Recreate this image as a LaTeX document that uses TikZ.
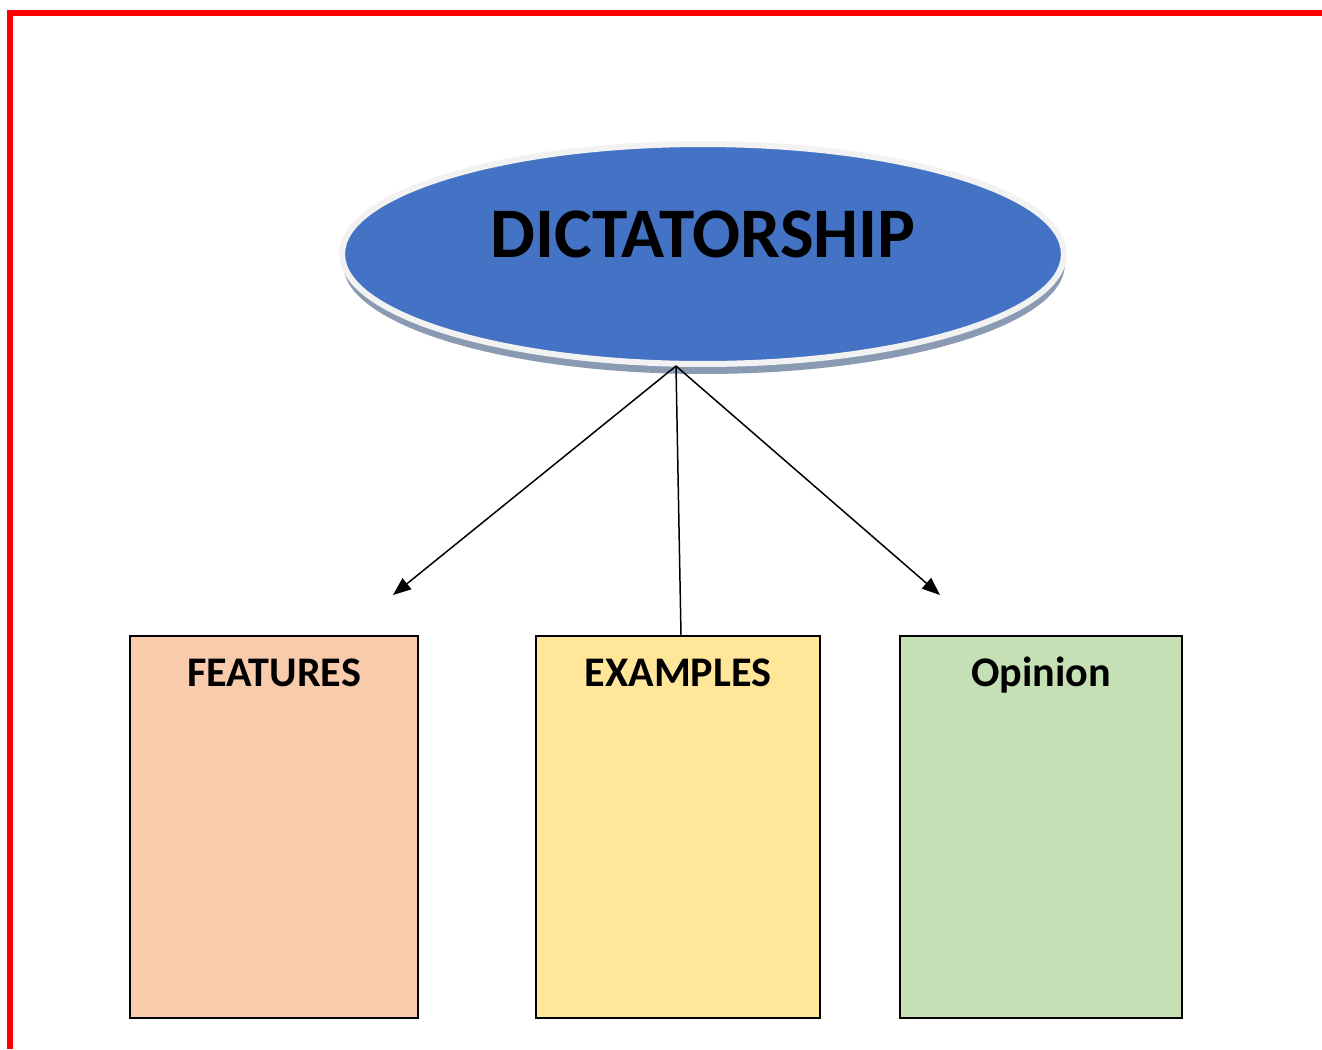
\documentclass[tikz,border=0pt]{standalone}
\usepackage{fontspec}
\setmainfont{Carlito}
\usetikzlibrary{shapes.geometric,shadows,arrows.meta}
\definecolor{bubbleblue}{HTML}{4472C4}
\definecolor{ringgray}{HTML}{F2F2F2}
\definecolor{shadowblue}{HTML}{8A9AB2}
\definecolor{featfill}{HTML}{F8CBAD}
\definecolor{examfill}{HTML}{FFE699}
\definecolor{opinfill}{HTML}{C5E0B4}
\tikzstyle{frame} = [draw=red,line width=0.12cm]
\tikzstyle{bubble} = [ellipse,fill=bubbleblue,draw=ringgray,line width=0.12cm,minimum width=14.44cm,minimum height=4.4cm,inner sep=0pt,drop shadow={fill=shadowblue,opacity=1,shadow xshift=0.02cm,shadow yshift=-0.2cm}]
\tikzstyle{headline} = [font=\bfseries\fontsize{40.5}{48}\selectfont,inner sep=0pt]
\tikzstyle{card} = [rectangle,draw=black,line width=0.04cm,minimum height=7.64cm,inner sep=0pt]
\tikzstyle{cardtitle} = [font=\bfseries\fontsize{24}{28}\selectfont,inner sep=0pt]
\tikzstyle{link} = [draw,line width=0.85pt]
\tikzstyle{pointer} = [link,-{Triangle[length=0.36cm,width=0.28cm]}]

\begin{document}
\begin{tikzpicture}[x=0.02cm,y=-0.02cm]
  \useasboundingbox (0,0) rectangle (1322,1049);
  % The red page frame
  \path[frame] (1322,13) -- (10,13) -- (10,1049);

  % The main topic
  \node[bubble] (dict) at (703,254) {};
  \node[headline,anchor=base] (dict-t) at (703,257) {DICTATORSHIP};

  % The three cards
  \foreach \pos/\name/\col/\cardw/\txt in {{(274,827)/feat/featfill/5.76cm/FEATURES}, {(678,827)/exam/examfill/5.68cm/EXAMPLES}, {(1041,827)/opin/opinfill/5.64cm/Opinion}} {
    \node[card,fill=\col,minimum width=\cardw] (\name) at \pos {};
    \node[cardtitle,anchor=base] (\name-t) at ([yshift=-1.02cm]\name.north) {\txt};
  }

  % Connectors from the topic
  \coordinate (hub) at (676,366);
  \coordinate (feat-in) at (393,595);
  \coordinate (opin-in) at (940,595);
  \path[pointer] (hub) -- (feat-in);
  \path[pointer] (hub) -- (opin-in);
  \path[link] (hub) -- ([xshift=0.06cm]exam.north);
\end{tikzpicture}
\end{document}
